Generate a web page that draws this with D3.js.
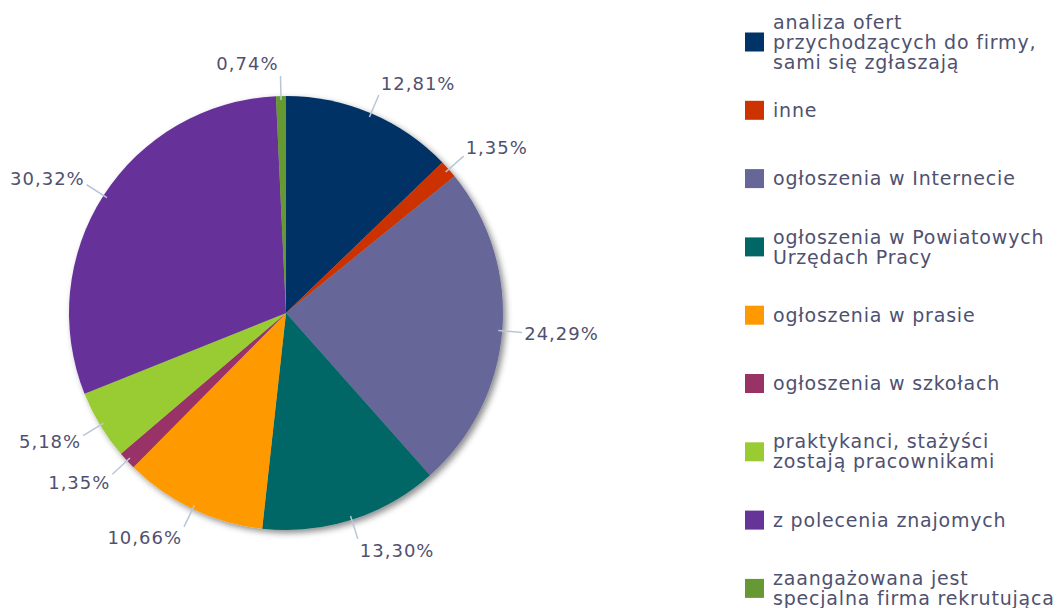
<!DOCTYPE html>
<html>
<head>
<meta charset="utf-8">
<script src="https://cdn.jsdelivr.net/npm/d3@7"></script>
<style>
    body { margin: 0; background: #fff; }
    svg { display: block; }
</style>
</head>
<body>
<div id="chart"></div>
<script>

// Data
const categories = [
    "analiza ofert\nprzychodzących do firmy,\nsami się zgłaszają",
    "inne",
    "ogłoszenia w Internecie",
    "ogłoszenia w Powiatowych\nUrzędach Pracy",
    "ogłoszenia w prasie",
    "ogłoszenia w szkołach",
    "praktykanci, stażyści\nzostają pracownikami",
    "z polecenia znajomych",
    "zaangażowana jest\nspecjalna firma rekrutująca"
];
const values = [12.81, 1.35, 24.29, 13.30, 10.66, 1.35, 5.18, 30.32, 0.74];
const colours = ["#003366", "#cc3300", "#666699", "#006666", "#ff9900", "#993366", "#99cc33", "#663399", "#669933"];

const width = 1062, height = 608;
const cx = 286, cy = 313, radius = 217;
const textColour = "#4f5170";
const font = "DejaVu Sans, sans-serif";

const svg = d3.select("#chart")
    .append("svg")
    .attr("width", width)
    .attr("height", height);

// Drop shadow under the pie
const filter = svg.append("defs").append("filter")
    .attr("id", "shadow")
    .attr("x", "-10%").attr("y", "-10%")
    .attr("width", "130%").attr("height", "130%");
filter.append("feDropShadow")
    .attr("dx", 3)
    .attr("dy", 3)
    .attr("stdDeviation", 3)
    .attr("flood-color", "#000")
    .attr("flood-opacity", 0.45);

const data = values.map((v, i) => ({ name: categories[i], value: v, colour: colours[i] }));

const pie = d3.pie()
    .sort(null)
    .value((d) => d.value);
const arcs = pie(data);

const arc = d3.arc().innerRadius(0).outerRadius(radius);

const g = svg.append("g")
    .attr("transform", `translate(${cx}, ${cy})`);

g.append("g")
    .attr("filter", "url(#shadow)")
    .selectAll("path")
    .data(arcs)
    .enter()
    .append("path")
    .attr("d", arc)
    .attr("fill", (d) => d.data.colour);

// Percentage labels with short leader lines
const fmt = (v) => v.toFixed(2).replace(".", ",") + "%";
const labels = g.append("g");
arcs.forEach((d) => {
    const a = (d.startAngle + d.endAngle) / 2;
    const s = Math.sin(a), c = Math.cos(a);
    const r0 = radius - 4, r1 = radius + 20;
    const ex = s * r1, ey = -c * r1;
    labels.append("line")
        .attr("x1", s * r0).attr("y1", -c * r0)
        .attr("x2", ex).attr("y2", ey)
        .attr("stroke", "#b8c6d6")
        .attr("stroke-width", 1.5);
    labels.append("text")
        .attr("x", ex + (s >= 0 ? 2 : -2))
        .attr("y", ey - c * 12)
        .attr("dy", "0.35em")
        .attr("text-anchor", s >= 0 ? "start" : "end")
        .attr("font-family", font)
        .attr("font-size", 18)
        .attr("letter-spacing", 1)
        .attr("fill", textColour)
        .text(fmt(d.data.value));
});

// Legend
const legend = svg.append("g");
const lineH = 20;
data.forEach((d, i) => {
    const yc = 42 + 68.3 * i;
    legend.append("rect")
        .attr("x", 745)
        .attr("y", yc - 9.5)
        .attr("width", 19)
        .attr("height", 19)
        .attr("fill", d.colour);
    const lines = d.name.split("\n");
    const t = legend.append("text")
        .attr("font-family", font)
        .attr("font-size", 19)
        .attr("letter-spacing", 0.8)
        .attr("fill", textColour);
    lines.forEach((ln, j) => {
        t.append("tspan")
            .attr("x", 773)
            .attr("y", yc + (j - (lines.length - 1) / 2) * lineH)
            .attr("dy", "0.35em")
            .text(ln);
    });
});

</script>
</body>
</html>
